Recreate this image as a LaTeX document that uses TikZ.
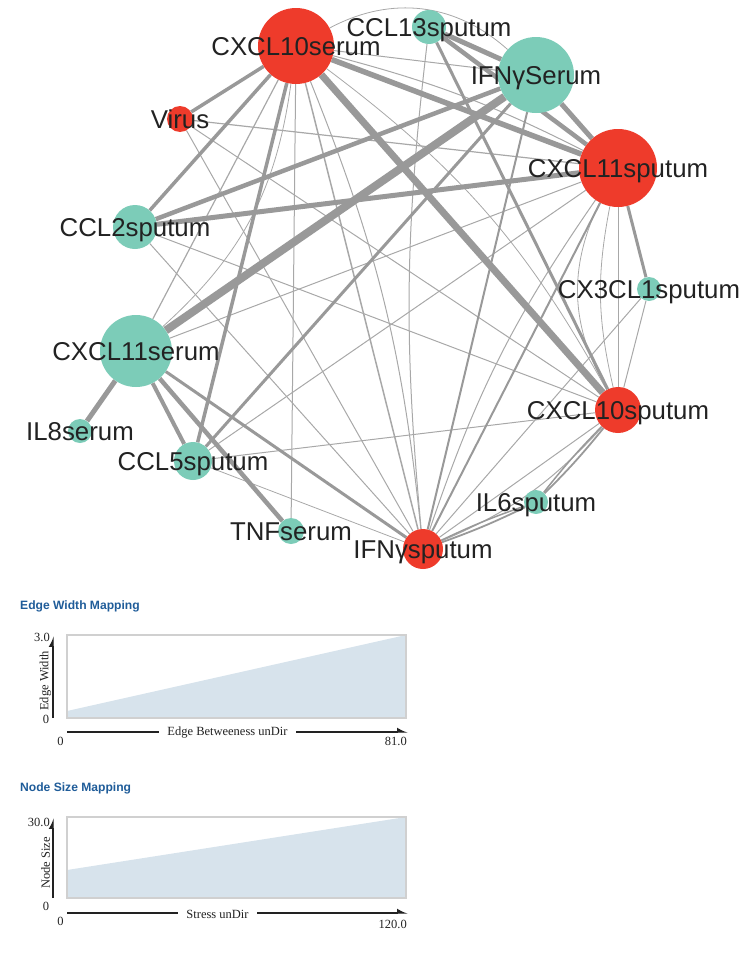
\documentclass[tikz,border=0pt]{standalone}
\usepackage{fontspec}
\setmainfont{Liberation Sans}
\newfontfamily\chartfont{Liberation Serif}
\usetikzlibrary{positioning,arrows.meta,backgrounds}
\definecolor{cRed}{HTML}{EE3B2B}
\definecolor{cTeal}{HTML}{7CCCB8}
\definecolor{cEdge}{HTML}{999999}
\definecolor{cEdgeLt}{HTML}{A8A8A8}
\definecolor{cTitle}{HTML}{1F5C99}
\definecolor{cFill}{HTML}{D7E3EC}
\definecolor{cFrame}{HTML}{D0D0D0}
\definecolor{cText}{HTML}{222222}
\tikzset{
  rnode/.style={circle,inner sep=0pt,fill=cRed,minimum size=2*#1pt},
  tnode/.style={circle,inner sep=0pt,fill=cTeal,minimum size=2*#1pt},
  lab/.style={font=\fontsize{25.8}{28}\selectfont,text=cText,text height=18.5pt,text depth=0pt,inner sep=0pt},
  ed/.style={draw=cEdge,line width=#1pt}, et/.style={draw=cEdgeLt,line width=#1pt},
  ttl/.style={font=\fontsize{12.1}{14}\selectfont\bfseries,text=cTitle,inner sep=0pt,anchor=west},
  axl/.style={font=\chartfont\fontsize{12.5}{14}\selectfont,text=cText,inner sep=0pt},
  axis/.style={draw=cText,line width=1.3pt,-{Latex[harpoon,length=9pt,width=9pt]}},
  frame/.style={draw=cFrame,line width=1.2pt}}
\begin{document}
\begin{tikzpicture}[x=1pt,y=-1pt]
\useasboundingbox (0,0) rectangle (744,953);
\node[rnode=38, label={[lab]center:CXCL10serum}] (cx10ser) at (296,46) {};
\node[tnode=17, label={[lab]center:CCL13sputum}] (ccl13sp) at (429,27) {};
\node[tnode=38, label={[lab]center:IFNγSerum}] (ifnser) at (536,75) {};
\node[rnode=39, label={[lab]center:CXCL11sputum}] (cx11sp) at (618,168) {};
\node[tnode=12, label={[lab]center:CX3CL1sputum}] (cx3sp) at (649,289) {};
\node[rnode=23, label={[lab]center:CXCL10sputum}] (cx10sp) at (618,410) {};
\node[tnode=12, label={[lab]center:IL6sputum}] (il6sp) at (536,502) {};
\node[rnode=20, label={[lab]center:IFNγsputum}] (ifnsp) at (423,549) {};
\node[tnode=13, label={[lab]center:TNFserum}] (tnfser) at (291,531) {};
\node[tnode=19, label={[lab]center:CCL5sputum}] (ccl5sp) at (193,461) {};
\node[tnode=12, label={[lab]center:IL8serum}] (il8ser) at (80,431) {};
\node[tnode=36, label={[lab]center:CXCL11serum}] (cx11ser) at (136,351) {};
\node[tnode=22, label={[lab]center:CCL2sputum}] (ccl2sp) at (135,227) {};
\node[rnode=13, label={[lab]center:Virus}] (virus) at (180,119) {};
\begin{scope}[on background layer]
\draw[et=1.2] (cx10ser)--(cx11ser); \draw[et=0.8] (cx10ser) to[bend left=20] (cx11ser);
\draw[et=1] (cx10ser)--(tnfser); \draw[et=1.5] (cx10ser)--(ifnsp); \draw[et=1] (cx10ser) to[bend left=8] (ifnsp);
\draw[et=1] (cx10ser)--(ifnser); \draw[et=0.8] (cx10ser) to[bend left=35] (ifnser);
\draw[et=0.8] (cx10ser) to[bend left=12] (cx10sp); \draw[et=1] (cx10ser) to[bend left=6] (cx11sp);
\draw[et=1.2] (virus)--(cx11sp); \draw[et=1] (virus)--(cx10sp); \draw[et=1] (virus)--(ifnsp);
\draw[et=1] (ccl2sp)--(cx10sp); \draw[et=1] (ccl2sp)--(ifnsp);
\draw[et=1] (cx11ser)--(cx11sp); \draw[et=1] (ccl5sp)--(cx11sp); \draw[et=1] (ccl5sp)--(cx10sp); \draw[et=0.8] (ccl5sp)--(ifnsp);
\draw[et=1] (ccl13sp) to[bend right=6] (ifnsp);
\draw[et=1] (cx11sp)--(cx10sp); \draw[et=0.8] (cx11sp) to[bend right=12] (cx10sp); \draw[et=0.8] (cx11sp) to[bend right=28] (cx10sp);
\draw[et=1] (cx11sp) to[bend right=8] (ifnsp);
\draw[et=1] (cx3sp)--(cx10sp); \draw[et=1] (cx3sp)--(ifnsp);
\draw[et=1] (cx10sp)--(ifnsp); \draw[et=1] (cx10sp) to[bend left=12] (ifnsp);
\draw[ed=1.8] (cx10sp) to[bend left=3] (il6sp); \draw[ed=1.5] (cx10sp) to[bend right=3] (il6sp);
\draw[ed=1.8] (il6sp) to[bend left=3] (ifnsp); \draw[ed=1.5] (il6sp) to[bend right=3] (ifnsp);
\draw[ed=2] (ifnser)--(ifnsp); \draw[ed=2] (cx11sp)--(ifnsp);
\draw[ed=3] (ccl5sp)--(ifnser); \draw[ed=3] (cx11ser)--(ifnsp); \draw[ed=3] (cx11sp)--(cx3sp); \draw[ed=3] (ccl13sp)--(cx10sp);
\draw[ed=3.5] (cx10ser)--(virus); \draw[ed=3.5] (cx10ser)--(ccl2sp); \draw[ed=3.5] (cx10ser)--(ccl5sp);
\draw[ed=4] (cx11ser)--(ccl5sp); \draw[ed=4.5] (cx11ser)--(tnfser); \draw[ed=5] (cx11ser)--(il8ser);
\draw[ed=5] (ifnser)--(cx11sp); \draw[ed=4.5] (ccl13sp)--(cx11sp); \draw[ed=5] (ccl13sp)--(ifnser);
\draw[ed=4.5] (ccl2sp)--(ifnser); \draw[ed=5] (ccl2sp)--(cx11sp);
\draw[ed=5.5] (cx10ser)--(cx11sp); \draw[ed=7] (cx10ser)--(cx10sp); \draw[ed=8] (cx11ser)--(ifnser);
\end{scope}
\node[ttl] (ewtitle) at (20,606) {Edge Width Mapping};
\fill[cFill] (67,718) -- (67,711) -- (406,635) -- (406,718) -- cycle;
\draw[frame] (67,635) rectangle (406,718);
\coordinate (ewy0) at (53,718); \coordinate (ewy1) at (53,636);
\coordinate (ewx0) at (67,732); \coordinate (ewx1) at (408,732);
\draw[axis] (ewy0)--(ewy1); \draw[axis] (ewx0)--(ewx1);
\node[axl, anchor=east] (ewtop) at (50,637) {3.0};
\node[axl] (ewbot) at (46,719) {0};
\node[axl, rotate=90] (ewname) at (45.5,681) {Edge Width};
\node[axl, fill=white, inner xsep=8pt, inner ysep=1pt] (ewvar) at (227.5,732.5) {Edge Betweeness unDir};
\node[axl] (ewlo) at (60.5,741) {0};
\node[axl, anchor=east] (ewhi) at (407,741) {81.0};
\node[ttl] (nstitle) at (20,788) {Node Size Mapping};
\fill[cFill] (67,898) -- (67,870) -- (406,817) -- (406,898) -- cycle;
\draw[frame] (67,817) rectangle (406,898);
\coordinate (nsy0) at (53,898); \coordinate (nsy1) at (53,818);
\coordinate (nsx0) at (67,913) ; \coordinate (nsx1) at (408,913);
\draw[axis] (nsy0)--(nsy1); \draw[axis] (nsx0)--(nsx1);
\node[axl, anchor=east] (nstop) at (50,822) {30.0};
\node[axl] (nsbot) at (46,906) {0};
\node[axl, rotate=90] (nsname) at (45.5,863) {Node Size};
\node[axl, fill=white, inner xsep=8pt, inner ysep=1pt] (nsvar) at (217.5,914.5) {Stress unDir};
\node[axl] (nslo) at (60.5,921) {0};
\node[axl, anchor=east] (nshi) at (407,924) {120.0};
\end{tikzpicture}
\end{document}
